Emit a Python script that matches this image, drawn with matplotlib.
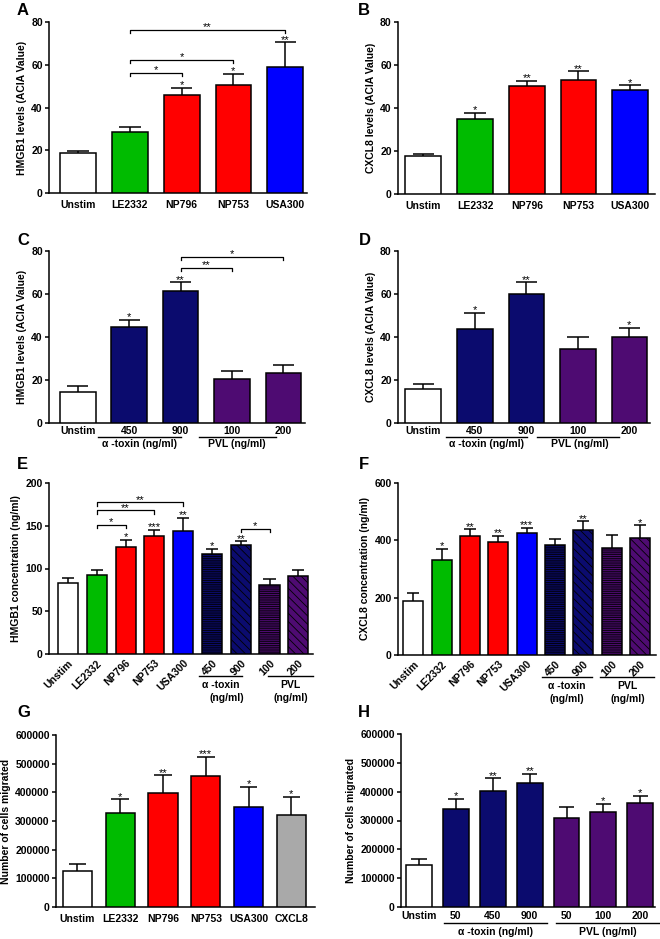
import numpy as np
import matplotlib
matplotlib.use("Agg")
import matplotlib.pyplot as plt
from matplotlib import transforms

plt.rcParams['font.family'] = ['Liberation Sans', 'DejaVu Sans']
plt.rcParams['font.weight'] = 'bold'
plt.rcParams['axes.labelweight'] = 'bold'
plt.rcParams['font.size'] = 7.5
plt.rcParams['hatch.linewidth'] = 0.6
plt.rcParams['axes.linewidth'] = 1.1

# colours
WHITE = 'white'; GREEN = '#00bb00'; RED = '#ff0000'; BLUE = '#0000ff'
NAVY = '#0b0b6e'; PURPLE = '#4e0b72'; GREY = '#a9a9a9'

# ---- data ----
strain_labels = ['Unstim', 'LE2332', 'NP796', 'NP753', 'USA300']
toxin_labels = ['Unstim', '450', '900', '100', '200']
all_labels = ['Unstim', 'LE2332', 'NP796', 'NP753', 'USA300', '450', '900', '100', '200']
mig_labels = ['Unstim', 'LE2332', 'NP796', 'NP753', 'USA300', 'CXCL8']
mig_tox_labels = ['Unstim', '50', '450', '900', '50', '100', '200']

A_vals = [18.5, 28.7, 46.0, 50.4, 59.0]
A_err = [1.0, 2.4, 3.2, 5.4, 11.5]
A_stars = ['', '', '*', '*', '**']
A_brackets = [(1, 2, 56.2, '*'), (1, 3, 62.4, '*'), (1, 4, 76.4, '**')]

B_vals = [17.7, 34.8, 50.3, 53.1, 48.3]
B_err = [0.8, 3.1, 2.3, 3.9, 2.3]
B_stars = ['', '*', '**', '**', '*']

C_vals = [14.2, 44.6, 61.5, 20.4, 23.2]
C_err = [3.1, 3.4, 4.0, 3.6, 3.7]
C_stars = ['', '*', '**', '', '']
C_brackets = [(2, 3, 72.3, '**'), (2, 4, 77.4, '*')]

D_vals = [15.8, 43.6, 59.8, 34.3, 40.0]
D_err = [2.2, 7.6, 5.6, 5.5, 4.4]
D_stars = ['', '*', '**', '', '*']

E_vals = [82.5, 92.2, 125.7, 138.5, 143.6, 117.5, 127.2, 80.5, 91.8]
E_err = [6.2, 6.6, 8.2, 7.0, 15.4, 5.5, 4.7, 7.8, 6.2]
E_stars = ['', '', '*', '***', '**', '*', '**', '', '']
E_brackets = [(1, 2, 151.4, '*'), (1, 3, 168.0, '**'), (1, 4, 177.4, '**'), (6, 7, 146.7, '*')]

F_vals = [189, 332, 414, 395, 425, 382, 437, 373, 408]
F_err = [29, 38, 25, 21, 18, 24, 29, 45, 45]
F_stars = ['', '*', '**', '**', '***', '', '**', '', '*']

G_vals = [124000, 327000, 399000, 457000, 349000, 321000]
G_err = [26000, 49000, 61000, 67000, 71000, 64000]
G_stars = ['', '*', '**', '***', '*', '*']

H_vals = [145000, 340000, 404000, 430000, 310000, 328000, 360000]
H_err = [21000, 36000, 43000, 32000, 36000, 29000, 26000]
H_stars = ['', '*', '**', '**', '', '*', '*']

c_strain = [WHITE, GREEN, RED, RED, BLUE]
c_toxin = [WHITE, NAVY, NAVY, PURPLE, PURPLE]
c_all = [WHITE, GREEN, RED, RED, BLUE, NAVY, NAVY, PURPLE, PURPLE]
h_all = ['', '', '', '', '', '---------', '\\\\\\\\', '---------', '\\\\\\\\']
c_mig = [WHITE, GREEN, RED, RED, BLUE, GREY]
c_mig_tox = [WHITE, NAVY, NAVY, NAVY, PURPLE, PURPLE, PURPLE]

W, Hpx = 660, 939
fig = plt.figure(figsize=(W / 100, Hpx / 100), dpi=100)


def box(l, t, r, b):
    return [l / W, 1 - b / Hpx, (r - l) / W, (b - t) / Hpx]


def panel(rect, xlim, ymax, ystep, labels, vals, errs, colors, stars,
          hatches=None, brackets=(), ylabel='', width=0.69, rot=False, lpad=5):
    ax = fig.add_axes(box(*rect))
    hpx = rect[3] - rect[1]
    x = np.arange(len(vals))
    bars = ax.bar(x, vals, width=width, color=colors, edgecolor='black',
                  linewidth=1.1, zorder=3)
    if hatches:
        for b, h in zip(bars, hatches):
            b.set_hatch(h)
    top = np.array(vals, float) + np.array(errs, float)
    cw = width * 0.3
    ax.vlines(x, vals, top, color='black', lw=1.1, zorder=2)
    ax.hlines(top, x - cw, x + cw, color='black', lw=1.1, zorder=2)
    for xi, t, s in zip(x, top, stars):
        if s:
            ax.annotate(s, (xi, t), xytext=(0, -1.8), textcoords='offset points',
                        ha='center', va='bottom', fontsize=8, fontweight='normal')
    d = 3.5 * ymax / hpx
    for i, j, y, s in brackets:
        ax.plot([i, i, j, j], [y - d, y, y, y - d], color='black', lw=0.9,
                clip_on=False, zorder=4)
        ax.annotate(s, ((i + j) / 2, y), xytext=(0, -1.8), textcoords='offset points',
                    ha='center', va='bottom', fontsize=8, fontweight='normal')
    ax.set_xlim(*xlim)
    ax.set_ylim(0, ymax)
    ax.set_yticks(np.arange(0, ymax + ystep / 2, ystep))
    ax.spines['top'].set_visible(False)
    ax.spines['right'].set_visible(False)
    ax.tick_params(axis='y', length=3, width=1.1, pad=1.5, labelsize=7.5)
    ax.tick_params(axis='x', length=0, pad=lpad, labelsize=7.5)
    if rot:
        ax.set_xticks(x, labels, rotation=45, ha='right', rotation_mode='anchor')
    else:
        ax.set_xticks(x, labels)
    ax.set_ylabel(ylabel, fontsize=7.5, labelpad=3)
    return ax, hpx


def group(ax, hpx, x0, x1, line_px, text_px, text, xc=None):
    tr = transforms.blended_transform_factory(ax.transData, ax.transAxes)
    ax.plot([x0, x1], [-line_px / hpx] * 2, color='black', lw=1.0,
            transform=tr, clip_on=False)
    if xc is None:
        xc = (x0 + x1) / 2
    ax.text(xc, -text_px / hpx, text, transform=tr, ha='center', va='center',
            fontsize=7.5)


# A
axA, hA = panel((49, 22, 307, 193), (-0.56, 4.42), 80, 20, strain_labels, A_vals, A_err,
                c_strain, A_stars, brackets=A_brackets,
                ylabel='HMGB1 levels (ACIA Value)', lpad=5)
# B
axB, hB = panel((398, 22, 655, 194), (-0.49, 4.48), 80, 20, strain_labels, B_vals, B_err,
                c_strain, B_stars, ylabel='CXCL8 levels (ACIA Value)', lpad=5)
# C
axC, hC = panel((49, 251, 305, 423), (-0.56, 4.42), 80, 20, toxin_labels, C_vals, C_err,
                c_toxin, C_stars, brackets=C_brackets,
                ylabel='HMGB1 levels (ACIA Value)', lpad=2.5)
group(axC, hC, 0.4, 2.0, 14, 21, '\u03b1 -toxin (ng/ml)', 1.2)
group(axC, hC, 2.35, 3.85, 14, 21, 'PVL (ng/ml)', 3.1)
# D
axD, hD = panel((398, 251, 650, 423), (-0.49, 4.4), 80, 20, toxin_labels, D_vals, D_err,
                c_toxin, D_stars, ylabel='CXCL8 levels (ACIA Value)', lpad=2.5)
group(axD, hD, 0.45, 2.02, 14, 21, '\u03b1 -toxin (ng/ml)', 1.23)
group(axD, hD, 2.2, 3.8, 14, 21, 'PVL (ng/ml)', 3.03)
# E
axE, hE = panel((49, 483, 313, 654), (-0.66, 8.51), 200, 50, all_labels, E_vals, E_err,
                c_all, E_stars, hatches=h_all, brackets=E_brackets, width=0.7,
                ylabel='HMGB1 concentration (ng/ml)', rot=True, lpad=3)
group(axE, hE, 4.55, 6.05, 22, 31, '\u03b1 -toxin')
group(axE, hE, 6.95, 8.5, 22, 31, 'PVL')
trE = transforms.blended_transform_factory(axE.transData, axE.transAxes)
axE.text(5.5, -44 / hE, '(ng/ml)', transform=trE, ha='center', va='center', fontsize=7.5)
axE.text(7.75, -44 / hE, '(ng/ml)', transform=trE, ha='center', va='center', fontsize=7.5)
# F
axF, hF = panel((398, 483, 656, 655), (-0.54, 8.56), 600, 200, all_labels, F_vals, F_err,
                c_all, F_stars, hatches=h_all, width=0.7,
                ylabel='CXCL8 concentration (ng/ml)', rot=True, lpad=3)
group(axF, hF, 4.55, 6.3, 22, 31, '\u03b1 -toxin')
group(axF, hF, 6.6, 8.5, 22, 31, 'PVL')
trF = transforms.blended_transform_factory(axF.transData, axF.transAxes)
axF.text(5.4, -44 / hF, '(ng/ml)', transform=trF, ha='center', va='center', fontsize=7.5)
axF.text(7.55, -44 / hF, '(ng/ml)', transform=trF, ha='center', va='center', fontsize=7.5)
# G
axG, hG = panel((56, 735, 315, 907), (-0.5, 5.55), 600000, 100000, mig_labels, G_vals, G_err,
                c_mig, G_stars, width=0.68, ylabel='Number of cells migrated', lpad=5)
# H
axH, hHH = panel((401, 734, 655, 907), (-0.49, 6.4), 600000, 100000, mig_tox_labels, H_vals,
                 H_err, c_mig_tox, H_stars, width=0.7, ylabel='Number of cells migrated',
                 lpad=3)
group(axH, hHH, 0.68, 3.48, 16, 25, '\u03b1 -toxin (ng/ml)')
group(axH, hHH, 3.72, 6.52, 16, 25, 'PVL (ng/ml)')

for s, (px, py) in zip('ABCDEFGH', [(17, 3), (358, 3), (17, 233), (359, 233),
                                     (17, 457), (359, 457), (17, 705), (358, 705)]):
    fig.text(px / W, 1 - py / Hpx, s, fontsize=12, va='top', ha='left')

fig.savefig('out.png', dpi=100)
